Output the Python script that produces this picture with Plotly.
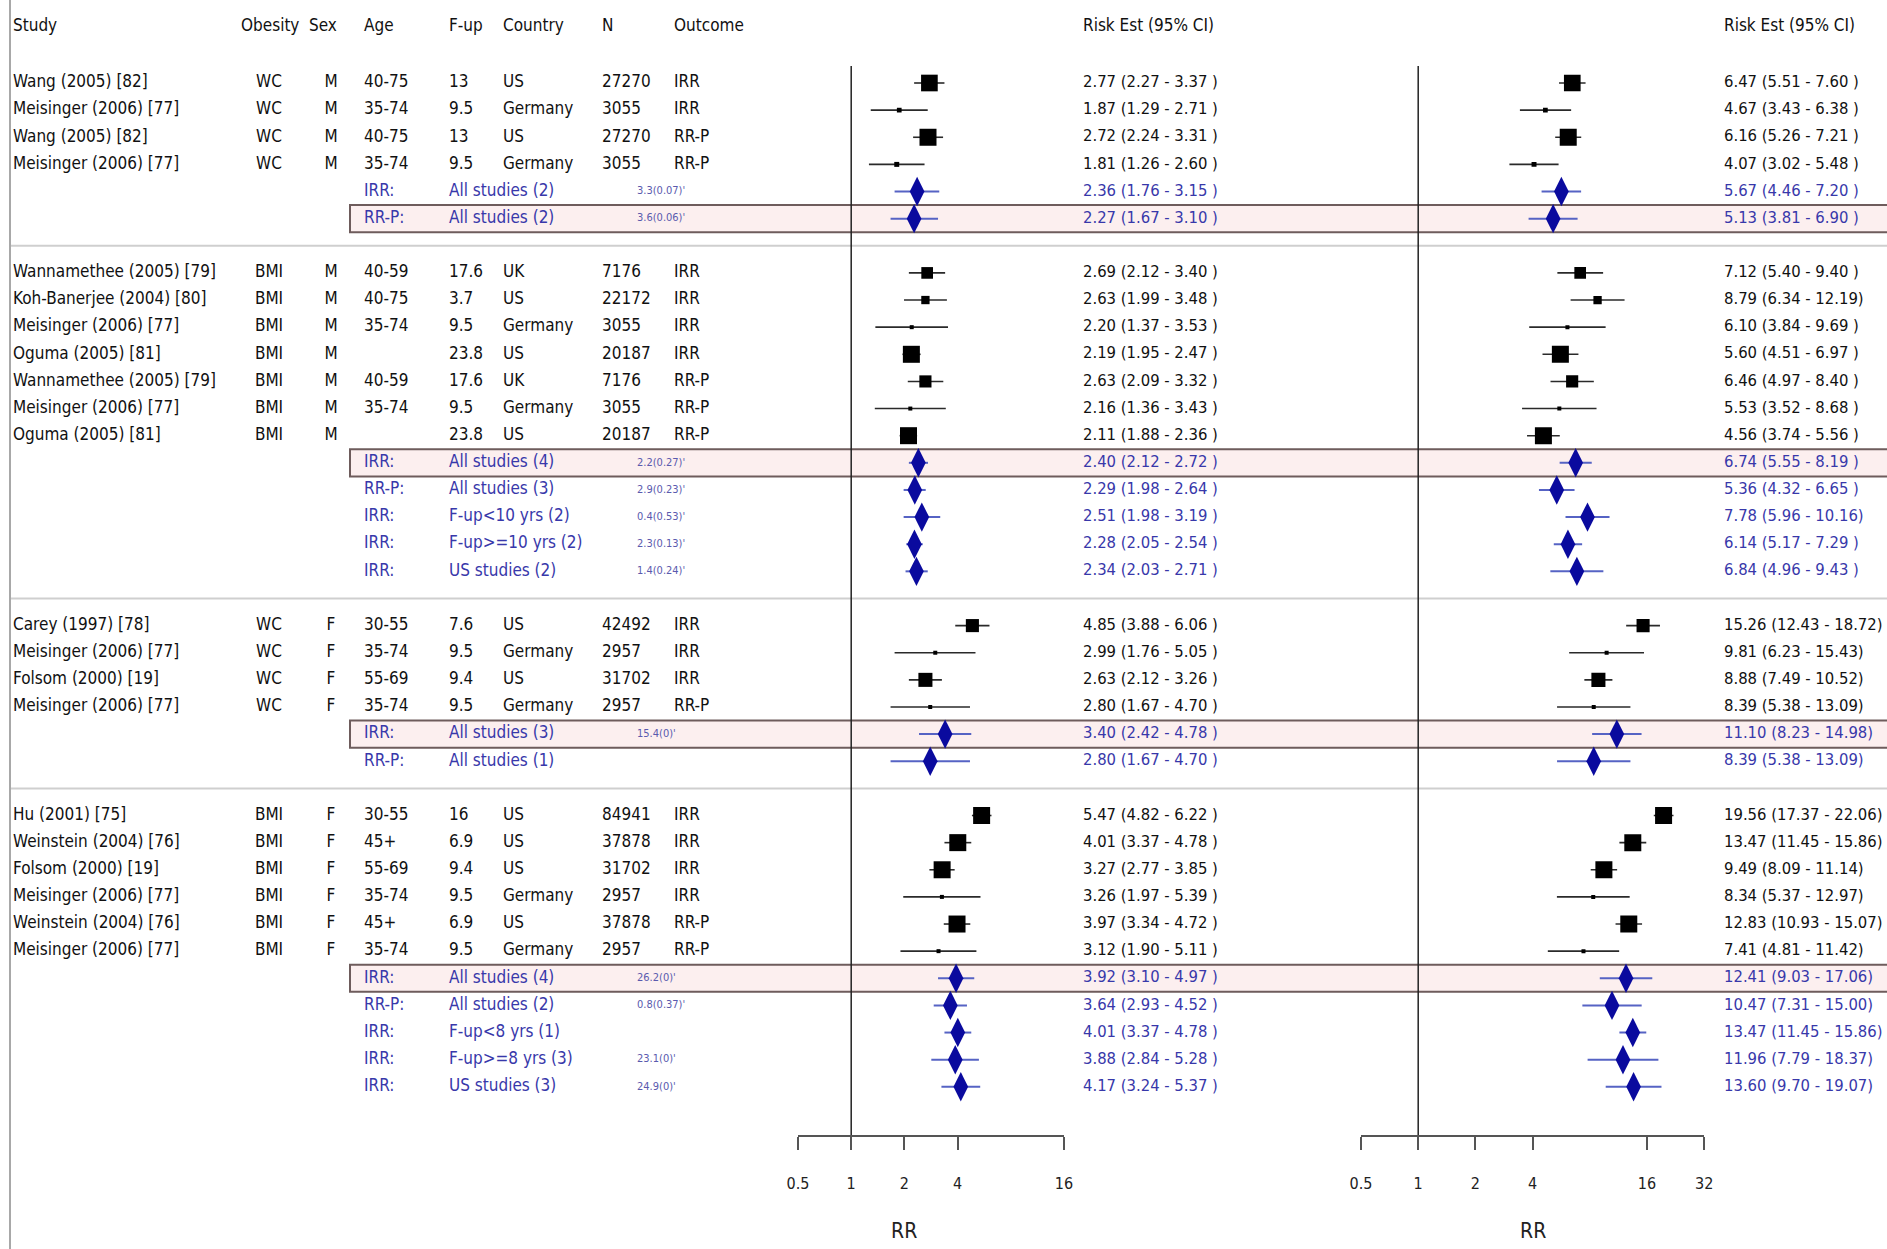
import math
import numpy as np
import plotly.graph_objects as go

# ---------------- data ----------------
group_obesity = ["WC", "BMI", "WC", "BMI"]
group_sex = ["M", "M", "F", "F"]

study_group = [0, 0, 0, 0,
               1, 1, 1, 1, 1, 1, 1,
               2, 2, 2, 2,
               3, 3, 3, 3, 3, 3]
study_names = [
    "Wang (2005) [82]", "Meisinger (2006) [77]", "Wang (2005) [82]", "Meisinger (2006) [77]",
    "Wannamethee (2005) [79]", "Koh-Banerjee (2004) [80]", "Meisinger (2006) [77]", "Oguma (2005) [81]",
    "Wannamethee (2005) [79]", "Meisinger (2006) [77]", "Oguma (2005) [81]",
    "Carey (1997) [78]", "Meisinger (2006) [77]", "Folsom (2000) [19]", "Meisinger (2006) [77]",
    "Hu (2001) [75]", "Weinstein (2004) [76]", "Folsom (2000) [19]", "Meisinger (2006) [77]",
    "Weinstein (2004) [76]", "Meisinger (2006) [77]",
]
study_age = ["40-75", "35-74", "40-75", "35-74",
             "40-59", "40-75", "35-74", "", "40-59", "35-74", "",
             "30-55", "35-74", "55-69", "35-74",
             "30-55", "45+", "55-69", "35-74", "45+", "35-74"]
study_fup = ["13", "9.5", "13", "9.5",
             "17.6", "3.7", "9.5", "23.8", "17.6", "9.5", "23.8",
             "7.6", "9.5", "9.4", "9.5",
             "16", "6.9", "9.4", "9.5", "6.9", "9.5"]
study_country = ["US", "Germany", "US", "Germany",
                 "UK", "US", "Germany", "US", "UK", "Germany", "US",
                 "US", "Germany", "US", "Germany",
                 "US", "US", "US", "Germany", "US", "Germany"]
study_n = ["27270", "3055", "27270", "3055",
           "7176", "22172", "3055", "20187", "7176", "3055", "20187",
           "42492", "2957", "31702", "2957",
           "84941", "37878", "31702", "2957", "37878", "2957"]
study_outcome = ["IRR", "IRR", "RR-P", "RR-P",
                 "IRR", "IRR", "IRR", "IRR", "RR-P", "RR-P", "RR-P",
                 "IRR", "IRR", "IRR", "RR-P",
                 "IRR", "IRR", "IRR", "IRR", "RR-P", "RR-P"]

# left panel risk estimates
study_est1 = [2.77, 1.87, 2.72, 1.81,
              2.69, 2.63, 2.20, 2.19, 2.63, 2.16, 2.11,
              4.85, 2.99, 2.63, 2.80,
              5.47, 4.01, 3.27, 3.26, 3.97, 3.12]
study_lo1 = [2.27, 1.29, 2.24, 1.26,
             2.12, 1.99, 1.37, 1.95, 2.09, 1.36, 1.88,
             3.88, 1.76, 2.12, 1.67,
             4.82, 3.37, 2.77, 1.97, 3.34, 1.90]
study_hi1 = [3.37, 2.71, 3.31, 2.60,
             3.40, 3.48, 3.53, 2.47, 3.32, 3.43, 2.36,
             6.06, 5.05, 3.26, 4.70,
             6.22, 4.78, 3.85, 5.39, 4.72, 5.11]
# right panel risk estimates
study_est2 = [6.47, 4.67, 6.16, 4.07,
              7.12, 8.79, 6.10, 5.60, 6.46, 5.53, 4.56,
              15.26, 9.81, 8.88, 8.39,
              19.56, 13.47, 9.49, 8.34, 12.83, 7.41]
study_lo2 = [5.51, 3.43, 5.26, 3.02,
             5.40, 6.34, 3.84, 4.51, 4.97, 3.52, 3.74,
             12.43, 6.23, 7.49, 5.38,
             17.37, 11.45, 8.09, 5.37, 10.93, 4.81]
study_hi2 = [7.60, 6.38, 7.21, 5.48,
             9.40, 12.19, 9.69, 6.97, 8.40, 8.68, 5.56,
             18.72, 15.43, 10.52, 13.09,
             22.06, 15.86, 11.14, 12.97, 15.07, 11.42]

summary_group = [0, 0, 1, 1, 1, 1, 1, 2, 2, 3, 3, 3, 3, 3]
summary_outcome = ["IRR:", "RR-P:", "IRR:", "RR-P:", "IRR:", "IRR:", "IRR:",
                   "IRR:", "RR-P:", "IRR:", "RR-P:", "IRR:", "IRR:", "IRR:"]
summary_label = ["All studies (2)", "All studies (2)",
                 "All studies (4)", "All studies (3)", "F-up<10 yrs (2)", "F-up>=10 yrs (2)", "US studies (2)",
                 "All studies (3)", "All studies (1)",
                 "All studies (4)", "All studies (2)", "F-up<8 yrs (1)", "F-up>=8 yrs (3)", "US studies (3)"]
summary_het = ["3.3(0.07)'", "3.6(0.06)'",
               "2.2(0.27)'", "2.9(0.23)'", "0.4(0.53)'", "2.3(0.13)'", "1.4(0.24)'",
               "15.4(0)'", "",
               "26.2(0)'", "0.8(0.37)'", "", "23.1(0)'", "24.9(0)'"]
summary_highlight = [False, True, True, False, False, False, False,
                     True, False, True, False, False, False, False]
summary_est1 = [2.36, 2.27, 2.40, 2.29, 2.51, 2.28, 2.34, 3.40, 2.80, 3.92, 3.64, 4.01, 3.88, 4.17]
summary_lo1 = [1.76, 1.67, 2.12, 1.98, 1.98, 2.05, 2.03, 2.42, 1.67, 3.10, 2.93, 3.37, 2.84, 3.24]
summary_hi1 = [3.15, 3.10, 2.72, 2.64, 3.19, 2.54, 2.71, 4.78, 4.70, 4.97, 4.52, 4.78, 5.28, 5.37]
summary_est2 = [5.67, 5.13, 6.74, 5.36, 7.78, 6.14, 6.84, 11.10, 8.39, 12.41, 10.47, 13.47, 11.96, 13.60]
summary_lo2 = [4.46, 3.81, 5.55, 4.32, 5.96, 5.17, 4.96, 8.23, 5.38, 9.03, 7.31, 11.45, 7.79, 9.70]
summary_hi2 = [7.20, 6.90, 8.19, 6.65, 10.16, 7.29, 9.43, 14.98, 13.09, 17.06, 15.00, 15.86, 18.37, 19.07]

tick_vals1 = [0.5, 1, 2, 4, 16]
tick_vals2 = [0.5, 1, 2, 4, 16, 32]
axis_title = "RR"
headers = ["Study", "Obesity", "Sex", "Age", "F-up", "Country", "N", "Outcome"]
ci_header = "Risk Est (95% CI)"

# ---------------- geometry (reference pixels) ----------------
W, H = 1887, 1249
OFF = 0
ROW0, ROWH = 83.0, 27.13


def prow(py):
    return (py - ROW0) / ROWH


def px(x):
    return (x - OFF) / W


FONT = "Liberation Sans Narrow, Arial Narrow, DejaVu Sans Condensed, Liberation Sans, Arial, sans-serif"
FS = 17
FS_CI = 16.5
BLACK = "#111111"
BLUE = "#3838aa"
DIAMOND = "#0a0a9e"

# row layout
rows_study, rows_summary, sep_rows = [], [], []
r = 0
for g in range(len(group_obesity)):
    for sg in study_group:
        if sg == g:
            rows_study.append(r)
            r += 1
    for sg in summary_group:
        if sg == g:
            rows_summary.append(r)
            r += 1
    if g < len(group_obesity) - 1:
        sep_rows.append(r)
        r += 1

fig = go.Figure()


def fmt_ci(e, lo, hi):
    return f"{e:.2f} ({lo:.2f} - {hi:<5.2f})"


def whisker_xy(lo, hi, rows):
    xs, ys = [], []
    for a, b, yy in zip(lo, hi, rows):
        xs += [a, b, None]
        ys += [yy, yy, None]
    return xs, ys


sq_size = np.clip(2.6 / np.log(np.array(study_hi1) / np.array(study_lo1)) ** 2, 4, 17)

for xa, est, lo, hi, sest, slo, shi in [
    ("x", study_est1, study_lo1, study_hi1, summary_est1, summary_lo1, summary_hi1),
    ("x2", study_est2, study_lo2, study_hi2, summary_est2, summary_lo2, summary_hi2),
]:
    # reference line at RR = 1
    fig.add_trace(go.Scatter(x=[1, 1], y=[prow(66), prow(1136)], xaxis=xa, yaxis="y",
                             mode="lines", line=dict(color="#222", width=1.5),
                             hoverinfo="skip", showlegend=False, cliponaxis=False))
    wx, wy = whisker_xy(lo, hi, rows_study)
    fig.add_trace(go.Scatter(x=wx, y=wy, xaxis=xa, yaxis="y", mode="lines",
                             line=dict(color="#2a2a2a", width=1.6),
                             hoverinfo="skip", showlegend=False))
    fig.add_trace(go.Scatter(x=est, y=rows_study, xaxis=xa, yaxis="y", mode="markers",
                             marker=dict(symbol="square", size=sq_size, color="#000000",
                                         opacity=1, line=dict(width=0)),
                             hoverinfo="skip", showlegend=False))
    wx, wy = whisker_xy(slo, shi, rows_summary)
    fig.add_trace(go.Scatter(x=wx, y=wy, xaxis=xa, yaxis="y", mode="lines",
                             line=dict(color="#5663c4", width=2),
                             hoverinfo="skip", showlegend=False))
    fig.add_trace(go.Scatter(x=sest, y=rows_summary, xaxis=xa, yaxis="y", mode="markers",
                             marker=dict(symbol="diamond-tall", size=21, color=DIAMOND,
                                         opacity=1, line=dict(width=0)),
                             hoverinfo="skip", showlegend=False))


def text_col(x, ys, texts, color=BLACK, pos="middle right", size=FS):
    fig.add_trace(go.Scatter(x=[x] * len(ys), y=ys, text=texts, xaxis="x3", yaxis="y",
                             mode="text", textposition=pos,
                             textfont=dict(family=FONT, size=size, color=color),
                             hoverinfo="skip", showlegend=False, cliponaxis=False))


HEAD_ROW = prow(27)
# headers
head_x = [13, 241, 309, 364, 449, 503, 602, 674]
for hx, ht in zip(head_x, headers):
    text_col(hx, [HEAD_ROW], [ht])
text_col(1083, [HEAD_ROW], [ci_header])
text_col(1724, [HEAD_ROW], [ci_header])

# study rows
text_col(13, rows_study, study_names)
text_col(269, rows_study, [group_obesity[g] for g in study_group], pos="middle center")
text_col(331, rows_study, [group_sex[g] for g in study_group], pos="middle center")
text_col(364, rows_study, study_age)
text_col(449, rows_study, study_fup)
text_col(503, rows_study, study_country)
text_col(602, rows_study, study_n)
text_col(674, rows_study, study_outcome)
text_col(1083, rows_study, [fmt_ci(*t) for t in zip(study_est1, study_lo1, study_hi1)], size=FS_CI)
text_col(1724, rows_study, [fmt_ci(*t) for t in zip(study_est2, study_lo2, study_hi2)], size=FS_CI)

# summary rows
text_col(364, rows_summary, summary_outcome, color=BLUE)
text_col(449, rows_summary, summary_label, color=BLUE)
text_col(637, rows_summary, summary_het, color="#5a5aae", size=11)
text_col(1083, rows_summary, [fmt_ci(*t) for t in zip(summary_est1, summary_lo1, summary_hi1)],
         color=BLUE, size=FS_CI)
text_col(1724, rows_summary, [fmt_ci(*t) for t in zip(summary_est2, summary_lo2, summary_hi2)],
         color=BLUE, size=FS_CI)

# shapes: highlight boxes, separators, left border
shapes = []
for yy, hl in zip(rows_summary, summary_highlight):
    if hl:
        shapes.append(dict(type="rect", xref="paper", yref="y", x0=px(350), x1=1.01,
                           y0=yy - 0.5, y1=yy + 0.5, layer="below",
                           line=dict(color="#6e5c5c", width=2), fillcolor="#fcefef"))
for yy in sep_rows:
    shapes.append(dict(type="line", xref="paper", yref="y", x0=px(10), x1=1.01,
                       y0=yy, y1=yy, layer="below", line=dict(color="#cfcfcf", width=2)))
shapes.append(dict(type="line", xref="paper", yref="paper", x0=px(10), x1=px(10),
                   y0=0, y1=1, layer="below", line=dict(color="#a8a8a8", width=2)))

AXIS_POS = 1 - (1136 - OFF) / H
common_axis = dict(type="log", anchor="free", position=AXIS_POS, showline=True,
                   linecolor="#555", linewidth=2, ticks="outside", ticklen=13, tickwidth=1.5,
                   tickcolor="#555", showgrid=False, zeroline=False, fixedrange=True,
                   automargin=False,
                   tickfont=dict(family=FONT, size=16, color="#222"), ticklabelstandoff=20)

X1_HALF, D1 = 798.0, 53.2
X2_HALF, D2 = 1361.0, 57.2

fig.update_layout(
    template="none",
    width=W, height=H,
    margin=dict(l=0, r=0, t=0, b=0, pad=0, autoexpand=False),
    paper_bgcolor="white", plot_bgcolor="rgba(0,0,0,0)",
    showlegend=False,
    xaxis=dict(common_axis, domain=[px(X1_HALF), px(X1_HALF + 5 * D1)],
               range=[math.log10(0.5), math.log10(16)],
               tickvals=tick_vals1, ticktext=[f"{v:g}" for v in tick_vals1]),
    xaxis2=dict(common_axis, domain=[px(X2_HALF), px(X2_HALF + 6 * D2)],
                range=[math.log10(0.5), math.log10(32)],
                tickvals=tick_vals2, ticktext=[f"{v:g}" for v in tick_vals2]),
    xaxis3=dict(domain=[0, 1], range=[OFF, OFF + W], anchor="y", visible=False,
                fixedrange=True, automargin=False),
    yaxis=dict(domain=[0, 1], range=[prow(OFF + H), prow(OFF)], visible=False,
               fixedrange=True, automargin=False),
    shapes=shapes,
    annotations=[
        dict(text=axis_title, x=math.log10(2), xref="x", y=prow(1231), yref="y",
             showarrow=False, font=dict(family=FONT, size=21, color="#222")),
        dict(text=axis_title, x=math.log10(4), xref="x2", y=prow(1231), yref="y",
             showarrow=False, font=dict(family=FONT, size=21, color="#222")),
    ],
)

fig.write_html(
    "out.html",
    config={"displayModeBar": False},
    post_script="document.body.style.margin='0';document.body.style.overflow='hidden';"
                "document.documentElement.style.overflow='hidden';",
)
